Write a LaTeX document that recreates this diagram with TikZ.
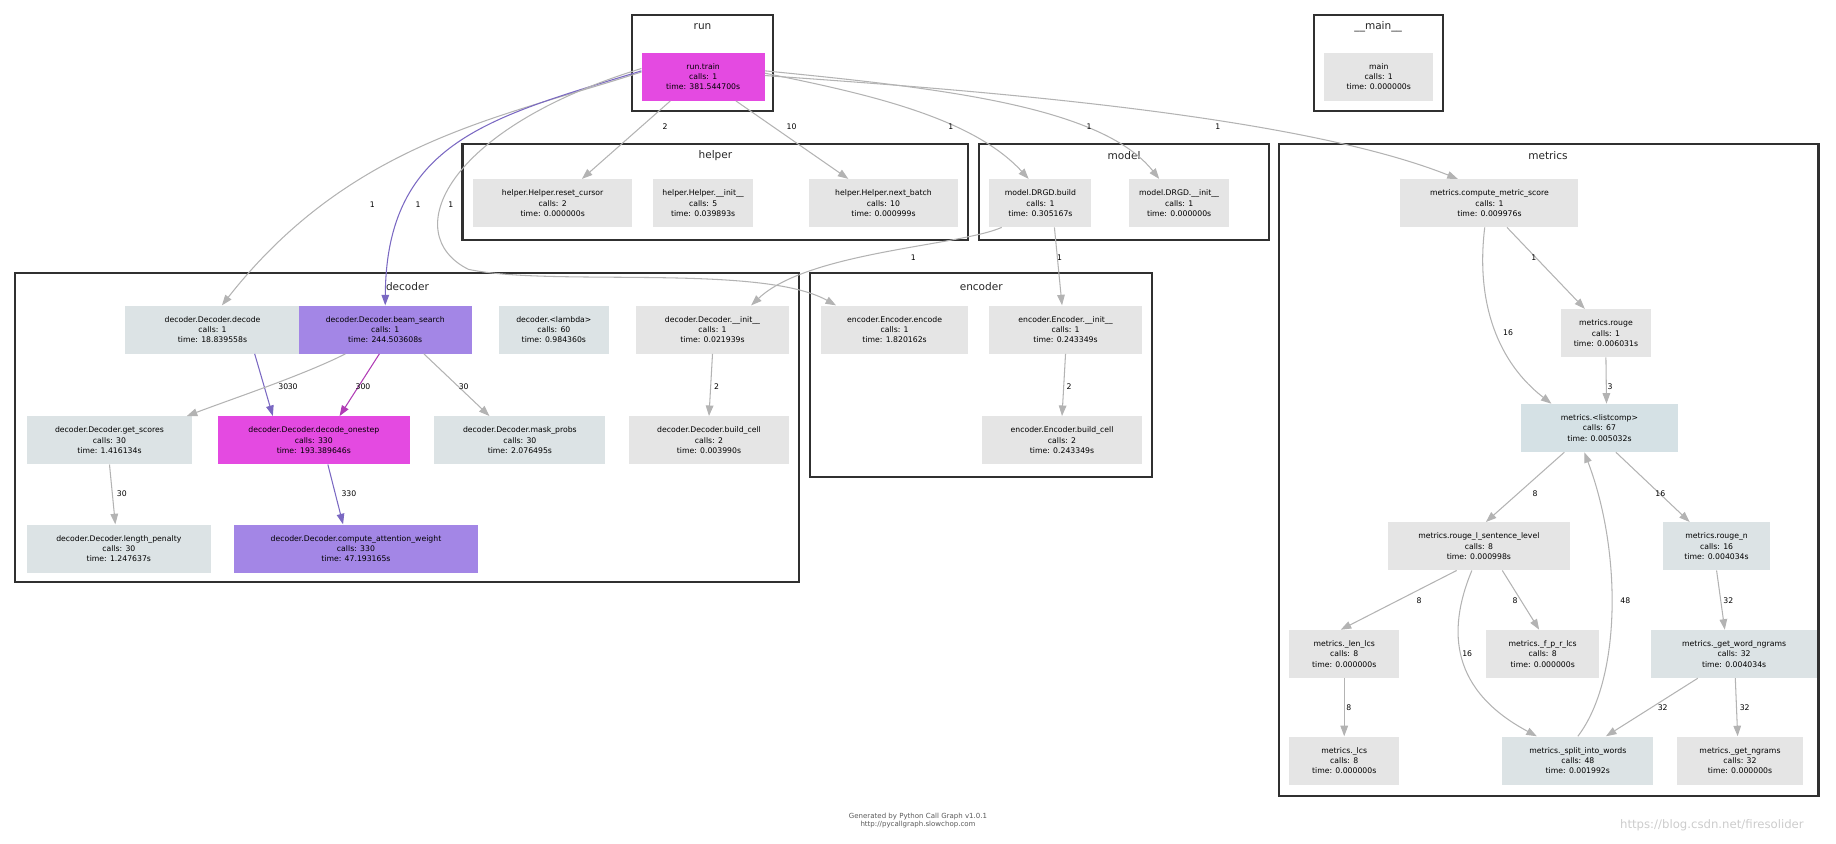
\documentclass[tikz,border=0pt]{standalone}
\usepackage{fontspec}
\setmainfont{DejaVu Sans}
\usetikzlibrary{arrows.meta}
\definecolor{ng}{HTML}{E5E5E5}
\definecolor{nb}{HTML}{DCE3E5}
\definecolor{nl}{HTML}{D5E1E5}
\definecolor{np}{HTML}{A386E6}
\definecolor{nm}{HTML}{E44AE1}
\definecolor{eg}{HTML}{B3B3B3}
\definecolor{ep}{HTML}{7A68C2}
\definecolor{em}{HTML}{B03CB5}
\definecolor{cl}{HTML}{303030}
\begin{document}
\begin{tikzpicture}[x=1pt,y=-1pt,
  n/.style={draw=none,rectangle,minimum height=41pt,inner sep=0pt,align=center,font=\fontsize{6.6}{8.8}\selectfont,fill=ng},
  ng/.style={n,fill=ng}, nb/.style={n,fill=nb}, nl/.style={n,fill=nl}, np/.style={n,fill=np}, nm/.style={n,fill=nm},
  cl/.style={draw=cl,line width=1.8pt},
  ct/.style={font=\fontsize{9}{10}\selectfont\color{black!85}},
  e/.style={draw=eg,line width=0.9pt,-{Triangle[length=9pt,width=6.5pt]}},
  ep/.style={e,draw=ep},
  em/.style={e,draw=em},
  lab/.style={font=\fontsize{6.6}{7}\selectfont,inner sep=1pt}]
\useasboundingbox (0,0) rectangle (1568,720);
% clusters
\draw[cl] (540,13) rectangle (660,95); \node[ct] (crun) at (600,23) {run};
\draw[cl] (1122,13) rectangle (1232,95); \node[ct] (cmain) at (1177,23) {\_\_main\_\_};
\draw[cl] (395,123) rectangle (827,205); \node[ct] (chelp) at (611,133) {helper};
\draw[cl] (836,123) rectangle (1084,205); \node[ct] (cmod) at (960,133) {model};
\draw[cl] (1092,123) rectangle (1553,680); \node[ct] (cmet) at (1322,133) {metrics};
\draw[cl] (13,233) rectangle (682,497); \node[ct] (cdec) at (348,245) {decoder};
\draw[cl] (692,233) rectangle (984,407); \node[ct] (cenc) at (838,245) {encoder};
% nodes
\node[nm,minimum width=105pt] (run) at (600.5,65.5) {run.train\\calls: 1\\time: 381.544700s};
\node[ng,minimum width=93pt] (main) at (1177.5,65.5) {main\\calls: 1\\time: 0.000000s};
\node[ng,minimum width=136pt] (reset) at (472,173.5) {helper.Helper.reset\_cursor\\calls: 2\\time: 0.000000s};
\node[ng,minimum width=85pt] (hinit) at (600.5,173.5) {helper.Helper.\_\_init\_\_\\calls: 5\\time: 0.039893s};
\node[ng,minimum width=127pt] (nextb) at (754.5,173.5) {helper.Helper.next\_batch\\calls: 10\\time: 0.000999s};
\node[ng,minimum width=87pt] (build) at (888.5,173.5) {model.DRGD.build\\calls: 1\\time: 0.305167s};
\node[ng,minimum width=86pt] (minit) at (1007,173.5) {model.DRGD.\_\_init\_\_\\calls: 1\\time: 0.000000s};
\node[ng,minimum width=152pt] (cms) at (1272,173.5) {metrics.compute\_metric\_score\\calls: 1\\time: 0.009976s};
\node[ng,minimum width=77pt] (rouge) at (1371.5,284.5) {metrics.rouge\\calls: 1\\time: 0.006031s};
\node[nl,minimum width=134pt] (listc) at (1366,365.5) {metrics.<listcomp>\\calls: 67\\time: 0.005032s};
\node[ng,minimum width=156pt] (rlsl) at (1263,466.5) {metrics.rouge\_l\_sentence\_level\\calls: 8\\time: 0.000998s};
\node[nb,minimum width=92pt] (rn) at (1466,466.5) {metrics.rouge\_n\\calls: 16\\time: 0.004034s};
\node[ng,minimum width=94pt] (lenlcs) at (1148,558.5) {metrics.\_len\_lcs\\calls: 8\\time: 0.000000s};
\node[ng,minimum width=97pt] (fpr) at (1317.5,558.5) {metrics.\_f\_p\_r\_lcs\\calls: 8\\time: 0.000000s};
\node[nb,minimum width=142pt] (gwn) at (1481,558.5) {metrics.\_get\_word\_ngrams\\calls: 32\\time: 0.004034s};
\node[ng,minimum width=94pt] (lcs) at (1148,649.5) {metrics.\_lcs\\calls: 8\\time: 0.000000s};
\node[nb,minimum width=129pt] (split) at (1347.5,649.5) {metrics.\_split\_into\_words\\calls: 48\\time: 0.001992s};
\node[ng,minimum width=108pt] (gng) at (1486,649.5) {metrics.\_get\_ngrams\\calls: 32\\time: 0.000000s};
\node[nb,minimum width=149pt] (decode) at (181.5,281.5) {decoder.Decoder.decode\\calls: 1\\time: 18.839558s};
\node[np,minimum width=148pt] (beam) at (329,281.5) {decoder.Decoder.beam\_search\\calls: 1\\time: 244.503608s};
\node[nb,minimum width=94pt] (lambda) at (473,281.5) {decoder.<lambda>\\calls: 60\\time: 0.984360s};
\node[ng,minimum width=131pt] (dinit) at (608.5,281.5) {decoder.Decoder.\_\_init\_\_\\calls: 1\\time: 0.021939s};
\node[nb,minimum width=141pt] (getsc) at (93.5,376) {decoder.Decoder.get\_scores\\calls: 30\\time: 1.416134s};
\node[nm,minimum width=164pt] (onestep) at (268,376) {decoder.Decoder.decode\_onestep\\calls: 330\\time: 193.389646s};
\node[nb,minimum width=146pt] (mask) at (444,376) {decoder.Decoder.mask\_probs\\calls: 30\\time: 2.076495s};
\node[ng,minimum width=137pt] (dbc) at (605.5,376) {decoder.Decoder.build\_cell\\calls: 2\\time: 0.003990s};
\node[nb,minimum width=157pt] (lenp) at (101.5,468.5) {decoder.Decoder.length\_penalty\\calls: 30\\time: 1.247637s};
\node[np,minimum width=208pt] (attn) at (304,468.5) {decoder.Decoder.compute\_attention\_weight\\calls: 330\\time: 47.193165s};
\node[ng,minimum width=126pt] (encode) at (764,281.5) {encoder.Encoder.encode\\calls: 1\\time: 1.820162s};
\node[ng,minimum width=130pt] (einit) at (910,281.5) {encoder.Encoder.\_\_init\_\_\\calls: 1\\time: 0.243349s};
\node[ng,minimum width=136pt] (ebc) at (907,376) {encoder.Encoder.build\_cell\\calls: 2\\time: 0.243349s};
% edges from run
\draw[e] ([yshift=4pt]run.west) .. controls (430,100) and (300,120) .. ([xshift=8pt]decode.north) node[lab] at (318,175) {1};
\draw[ep] ([yshift=5pt]run.west) .. controls (420,100) and (330,120) .. (beam.north) node[lab] at (357,175) {1};
\draw[e] ([yshift=7pt]run.west) .. controls (380,110) and (340,200) .. (400,230) .. controls (470,245) and (650,225) .. ([xshift=-50pt]encode.north) node[lab] at (385,175) {1};
\draw[e] ([xshift=-28pt]run.south) -- ([xshift=25pt]reset.north) node[lab] at (568,108) {2};
\draw[e] ([xshift=28pt]run.south) -- ([xshift=-30pt]nextb.north) node[lab] at (676,108) {10};
\draw[e] ([yshift=3pt]run.east) .. controls (740,80) and (830,100) .. ([xshift=-10pt]build.north) node[lab] at (812,108) {1};
\draw[e] ([yshift=5pt]run.east) .. controls (800,75) and (940,90) .. ([xshift=-17pt]minit.north) node[lab] at (930,108) {1};
\draw[e] ([yshift=1pt]run.east) .. controls (800,75) and (1100,95) .. ([xshift=-27pt]cms.north) node[lab] at (1040,108) {1};
% model
\draw[e] ([xshift=-33pt]build.south) .. controls (820,210) and (690,215) .. ([xshift=33pt]dinit.north) node[lab] at (780,220) {1};
\draw[e] ([xshift=12pt]build.south) -- ([xshift=-3pt]einit.north) node[lab] at (905,220) {1};
% decoder
\draw[ep] ([xshift=36pt]decode.south) -- ([xshift=-35pt]onestep.north) node[lab] at (242,330) {30};
\draw[e] ([xshift=-34pt]beam.south) .. controls (260,320) and (200,340) .. ([xshift=66pt]getsc.north) node[lab] at (250,330) {30};
\draw[em] ([xshift=-5pt]beam.south) -- ([xshift=22pt]onestep.north) node[lab] at (310,330) {300};
\draw[e] ([xshift=33pt]beam.south) -- ([xshift=-26pt]mask.north) node[lab] at (396,330) {30};
\draw[e] (dinit.south) -- (dbc.north) node[lab] at (612,330) {2};
\draw[e] (getsc.south) -- ([xshift=-3pt]lenp.north) node[lab] at (104,422) {30};
\draw[ep] ([xshift=12pt]onestep.south) -- ([xshift=-11pt]attn.north) node[lab] at (298,422) {330};
\draw[e] (einit.south) -- (ebc.north) node[lab] at (913,330) {2};
% metrics
\draw[e] ([xshift=15pt]cms.south) -- ([xshift=-18pt]rouge.north) node[lab] at (1310,220) {1};
\draw[e] ([xshift=-4pt]cms.south) .. controls (1260,260) and (1280,310) .. ([xshift=-41pt]listc.north) node[lab] at (1288,284) {16};
\draw[e] (rouge.south) -- ([xshift=6pt]listc.north) node[lab] at (1375,330) {3};
\draw[e] ([xshift=-30pt]listc.south) -- ([xshift=6pt]rlsl.north) node[lab] at (1311,422) {8};
\draw[e] ([xshift=14pt]listc.south) -- ([xshift=-23pt]rn.north) node[lab] at (1418,422) {16};
\draw[e] ([xshift=-19pt]rlsl.south) -- ([xshift=-3pt]lenlcs.north) node[lab] at (1212,513) {8};
\draw[e] ([xshift=20pt]rlsl.south) -- ([xshift=-3pt]fpr.north) node[lab] at (1294,513) {8};
\draw[e] ([xshift=-6pt]rlsl.south) .. controls (1235,540) and (1240,590) .. ([xshift=-35pt]split.north) node[lab] at (1253,558) {16};
\draw[e] (split.north) .. controls (1385,580) and (1385,470) .. ([xshift=-13pt]listc.south) node[lab] at (1388,513) {48};
\draw[e] (rn.south) -- ([xshift=-8pt]gwn.north) node[lab] at (1476,513) {32};
\draw[e] (lenlcs.south) -- (lcs.north) node[lab] at (1152,604) {8};
\draw[e] ([xshift=-31pt]gwn.south) -- ([xshift=24pt]split.north) node[lab] at (1420,604) {32};
\draw[e] ([xshift=1pt]gwn.south) -- ([xshift=-2pt]gng.north) node[lab] at (1490,604) {32};
% footer
\node[font=\fontsize{6}{7}\selectfont,text=black!65,align=center] (foot) at (784,701) {Generated by Python Call Graph v1.0.1\\http://pycallgraph.slowchop.com};
\node[font=\fontsize{10}{11}\selectfont,text=black!20] (wm) at (1462,705) {https://blog.csdn.net/firesolider};
\end{tikzpicture}
\end{document}
